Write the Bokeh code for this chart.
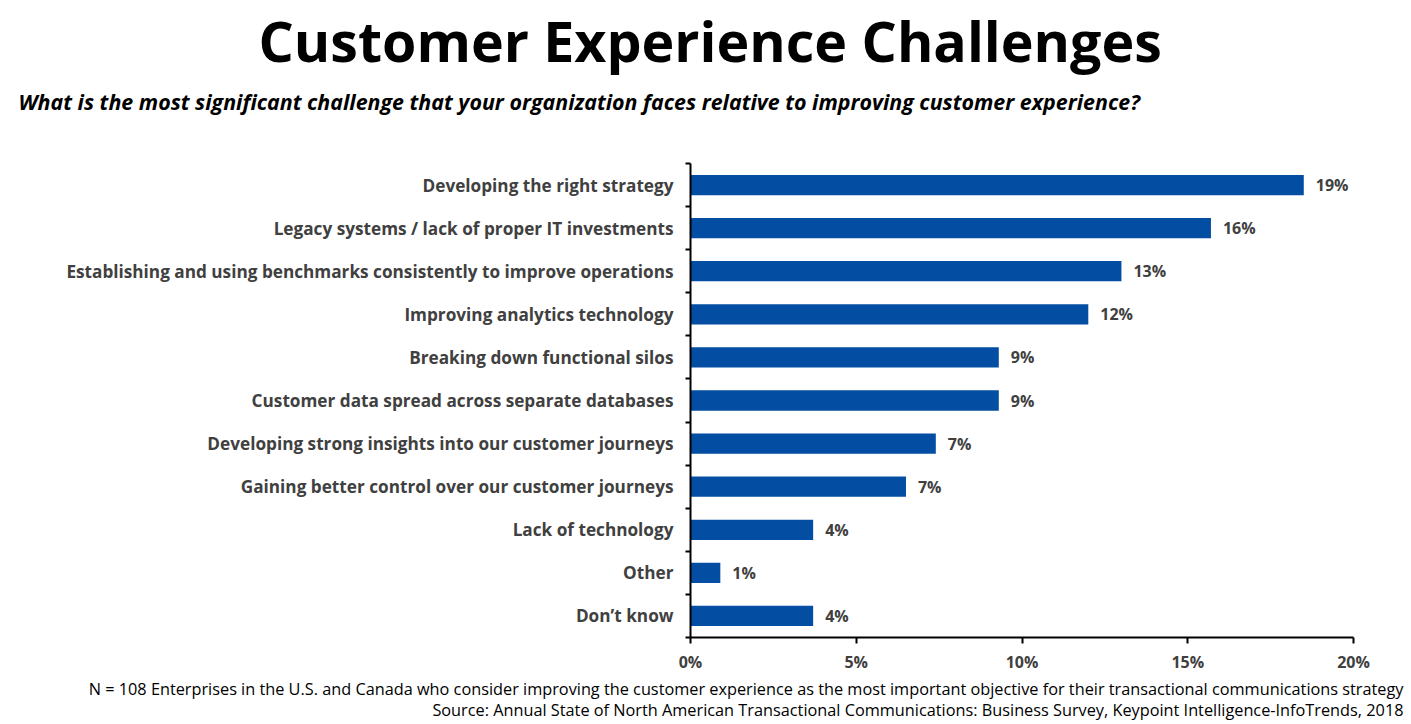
from bokeh.plotting import figure
from bokeh.models import (ColumnDataSource, Range1d, FixedTicker, NumeralTickFormatter, Title)
from bokeh.core.properties import value
from bokeh.embed import file_html
from bokeh.resources import INLINE

categories = [
    "Developing the right strategy",
    "Legacy systems / lack of proper IT investments",
    "Establishing and using benchmarks consistently to improve operations",
    "Improving analytics technology",
    "Breaking down functional silos",
    "Customer data spread across separate databases",
    "Developing strong insights into our customer journeys",
    "Gaining better control over our customer journeys",
    "Lack of technology",
    "Other",
    "Don\u2019t know",
]
shares = [0.185, 0.157, 0.130, 0.120, 0.093, 0.093, 0.074, 0.065, 0.037, 0.009, 0.037]
share_labels = ["19%", "16%", "13%", "12%", "9%", "9%", "7%", "7%", "4%", "1%", "4%"]
x_ticks = [0, 0.05, 0.10, 0.15, 0.20]

FONT = "Open Sans"
GRAY = "#404040"
BLUE = "#034EA2"

n = len(categories)
ypos = [n - 1 - i for i in range(n)]

src = ColumnDataSource(dict(cat=categories, val=shares, lab=share_labels, y=ypos))

p = figure(width=1405, height=720, output_backend="svg", toolbar_location=None,
           x_range=Range1d(0, 0.20), y_range=Range1d(-0.5, n - 0.5),
           min_border_left=690, min_border_right=52, min_border_top=163, min_border_bottom=83)
p.outline_line_color = None
p.grid.grid_line_color = None
p.background_fill_color = "white"
p.border_fill_color = "white"

p.hbar(y="y", right="val", left=0, height=0.47, source=src, color=BLUE, line_color=None)
p.text(x="val", y="y", text="lab", source=src, x_offset=12, text_baseline="middle",
       text_align="left", text_font=value(FONT), text_font_style="bold",
       text_font_size="16px", text_color=GRAY)

# x axis
xa = p.xaxis[0]
xa.ticker = FixedTicker(ticks=x_ticks)
xa.formatter = NumeralTickFormatter(format="0%")
xa.axis_line_color = "black"
xa.axis_line_width = 2
xa.major_tick_line_color = "black"
xa.major_tick_line_width = 2
xa.major_tick_out = 6
xa.major_tick_in = 0
xa.minor_tick_line_color = None
xa.major_label_text_font = FONT
xa.major_label_text_font_style = "bold"
xa.major_label_text_font_size = "16px"
xa.major_label_text_color = GRAY
xa.major_label_standoff = 7

# y axis
ya = p.yaxis[0]
boundaries = [i - 0.5 for i in range(n + 1)]
ya.ticker = FixedTicker(ticks=ypos, minor_ticks=boundaries)
ya.major_label_overrides = {yy: c for yy, c in zip(ypos, categories)}
ya.axis_line_color = "black"
ya.axis_line_width = 2
ya.major_tick_line_color = None
ya.major_tick_out = 0
ya.major_tick_in = 0
ya.minor_tick_line_color = "black"
ya.minor_tick_line_width = 2
ya.minor_tick_out = 5
ya.minor_tick_in = 0
ya.major_label_text_font = FONT
ya.major_label_text_font_style = "bold"
ya.major_label_text_font_size = "17.2px"
ya.major_label_text_color = GRAY
ya.major_label_standoff = 12

# titles (above panel: first item is closest to the frame)
subtitle = Title(text="What is the most significant challenge that your organization faces relative to improving customer experience?",
                 align="left", offset=-672, standoff=95, text_font=FONT,
                 text_font_style="bold italic", text_font_size="21.4px", text_color="black")
main_title = Title(text="Customer Experience Challenges", align="left", offset=-432,
                   standoff=-80, text_font=FONT, text_font_style="bold",
                   text_font_size="55.5px", text_color="black")
p.title = None
p.add_layout(subtitle, "above")
p.add_layout(main_title, "above")

foot1 = Title(text="N = 108 Enterprises in the U.S. and Canada who consider improving the customer experience as the most important objective for their transactional communications strategy",
              align="right", offset=-50, standoff=0, text_font=FONT, text_font_style="normal",
              text_font_size="16.3px", text_color="black")
foot2 = Title(text="Source: Annual State of North American Transactional Communications: Business Survey, Keypoint Intelligence-InfoTrends, 2018",
              align="right", offset=-50, standoff=-5, text_font=FONT, text_font_style="normal",
              text_font_size="16.3px", text_color="black")
p.add_layout(foot1, "below")
p.add_layout(foot2, "below")

open("out.html", "w").write(file_html(p, INLINE))
